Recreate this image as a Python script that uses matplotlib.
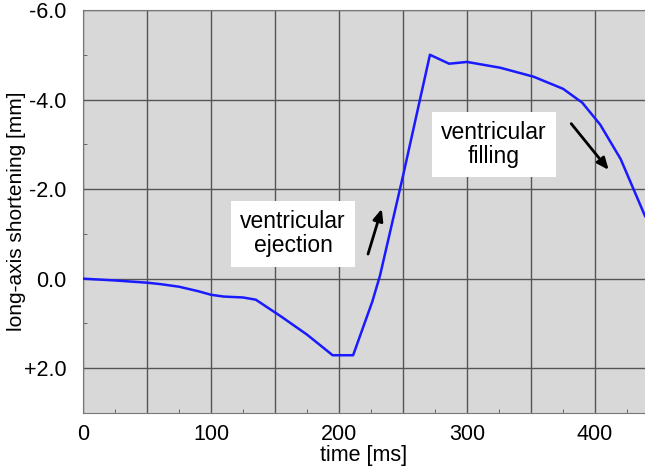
import matplotlib.pyplot as plt
from matplotlib.ticker import MultipleLocator, FuncFormatter

plt.rcParams['font.family'] = ['Liberation Sans', 'DejaVu Sans']

# curve
time_ms = [0, 25, 50, 60, 75, 90, 100, 110, 125, 135, 155, 175, 195, 211,
           226, 232, 250, 271, 286, 300, 326, 352, 375, 390, 404, 420, 439]
shortening = [0.0, 0.04, 0.09, 0.12, 0.18, 0.28, 0.36, 0.4, 0.42, 0.47, 0.85,
              1.25, 1.71, 1.71, 0.51, -0.07, -2.3, -5.0, -4.8, -4.84, -4.71,
              -4.51, -4.24, -3.93, -3.44, -2.67, -1.4]

y_ticks = [-6, -4, -2, 0, 2]
y_labels = ['-6.0', '-4.0', '-2.0', '0.0', '+2.0']


def main():
	fig = plt.figure(figsize=(6.45, 4.69), dpi=100)
	ax = fig.add_axes([0.1287, 0.1194, 0.8713, 0.8593])
	ax.set_facecolor('#d8d8d8')

	ax.plot(time_ms, shortening, color='#1a1aff', lw=1.8, zorder=3)

	ax.set_xlim(0, 439)
	ax.set_ylim(3.0, -6.0)

	ax.xaxis.set_major_locator(MultipleLocator(50))
	ax.xaxis.set_minor_locator(MultipleLocator(25))
	ax.xaxis.set_major_formatter(FuncFormatter(lambda v, p: '%d' % v if v % 100 == 0 else ''))
	ax.set_yticks(y_ticks)
	ax.set_yticklabels(y_labels)
	ax.yaxis.set_minor_locator(MultipleLocator(1))

	ax.grid(True, which='major', color='#555555', lw=1.0)
	ax.set_axisbelow(True)
	ax.tick_params(which='both', direction='in', color='#555555', labelsize=15.5)
	ax.tick_params(which='major', length=0)
	ax.tick_params(which='minor', length=3)
	ax.tick_params(axis='x', pad=8)
	ax.tick_params(axis='y', pad=12)
	for s in ax.spines.values():
		s.set_color('#777777')
	ax.spines['right'].set_visible(False)

	ax.set_xlabel('time [ms]', fontsize=15.5, labelpad=0)
	ax.set_ylabel('long-axis shortening [mm]', fontsize=15)
	ax.yaxis.set_label_coords(-0.102, 0.5)

	box = dict(boxstyle='square,pad=0.4', fc='white', ec='none')
	ax.text(164, -1.0, 'ventricular\nejection', fontsize=16.5, ha='center', va='center',
			linespacing=1.05, bbox=box, zorder=4)
	ax.text(321, -3.0, 'ventricular\nfilling', fontsize=16.5, ha='center', va='center',
			linespacing=1.05, bbox=box, zorder=4)

	arrow = dict(arrowstyle='-|>,head_length=0.7,head_width=0.3', color='black', lw=2)
	ax.annotate('', xy=(234, -1.62), xytext=(222, -0.49), arrowprops=arrow, zorder=4)
	ax.annotate('', xy=(412, -2.38), xytext=(380, -3.51), arrowprops=arrow, zorder=4)

	fig.savefig('out.png', dpi=100)


if __name__ == '__main__':
	main()
